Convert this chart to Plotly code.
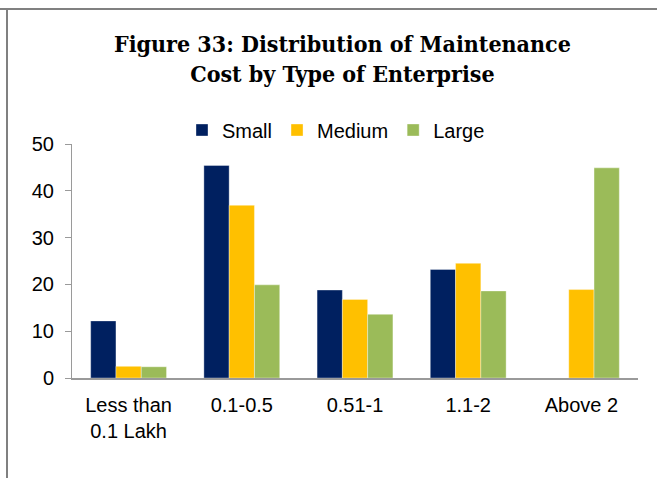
import plotly.graph_objects as go

# Chart data
categories = ["Less than<br>0.1 Lakh", "0.1-0.5", "0.51-1", "1.1-2", "Above 2"]
small = [12.2, 45.4, 18.8, 23.2, 0]
medium = [2.5, 36.9, 16.8, 24.5, 18.9]
large = [2.4, 19.9, 13.6, 18.6, 44.9]
y_ticks = [0, 10, 20, 30, 40, 50]

W, H = 657, 478
L, R, T, B = 72, 19, 144, 100  # plot margins in px
PW, PH = W - L - R, H - T - B


def px_x(px):
    return (px - L) / PW


def px_y(py):
    return (H - B - py) / PH


fig = go.Figure()
for name, vals, col in [
    ("Small", small, "#002060"),
    ("Medium", medium, "#FFC000"),
    ("Large", large, "#9BBB59"),
]:
    fig.add_trace(go.Bar(
        name=name, x=categories, y=vals,
        marker=dict(color=col, line=dict(color="rgba(255,255,255,0.35)", width=1)),
    ))

axis_font = dict(family="Liberation Sans, Arial, sans-serif", size=20, color="#000000")

fig.update_layout(
    width=W, height=H,
    margin=dict(l=L, r=R, t=T, b=B),
    paper_bgcolor="white", plot_bgcolor="white",
    barmode="group", bargap=0.33, bargroupgap=0,
    font=axis_font,
    showlegend=True,
    legend=dict(
        orientation="h", x=px_x(336), y=px_y(130),
        xanchor="center", yanchor="middle",
        font=axis_font, itemwidth=30, traceorder="normal",
        bgcolor="rgba(0,0,0,0)",
    ),
    xaxis=dict(
        showline=True, linecolor="#9a9a9a", linewidth=2,
        ticks="", showgrid=False, tickfont=axis_font,
        ticklabelstandoff=8,
    ),
    yaxis=dict(
        range=[0, 50], tickvals=y_ticks, showgrid=False,
        showline=True, linecolor="#9a9a9a", linewidth=1,
        ticks="outside", ticklen=6, tickcolor="#9a9a9a",
        tickfont=axis_font, zeroline=False,
        ticklabelstandoff=7,
    ),
    annotations=[dict(
        text="<b>Figure 33: Distribution of Maintenance<br>Cost by Type of Enterprise</b>",
        xref="paper", yref="paper", x=px_x(342), y=px_y(58),
        xanchor="center", yanchor="middle", showarrow=False, align="center",
        font=dict(family="DejaVu Serif Condensed, DejaVu Serif, serif", size=23, color="#000000"),
    )],
    shapes=[
        dict(type="line", xref="paper", yref="paper",
             x0=px_x(0), x1=px_x(W), y0=px_y(9), y1=px_y(9),
             line=dict(color="#808080", width=2)),
        dict(type="line", xref="paper", yref="paper",
             x0=px_x(7), x1=px_x(7), y0=px_y(9), y1=px_y(H),
             line=dict(color="#808080", width=2)),
    ],
)

fig.write_html("out.html")
